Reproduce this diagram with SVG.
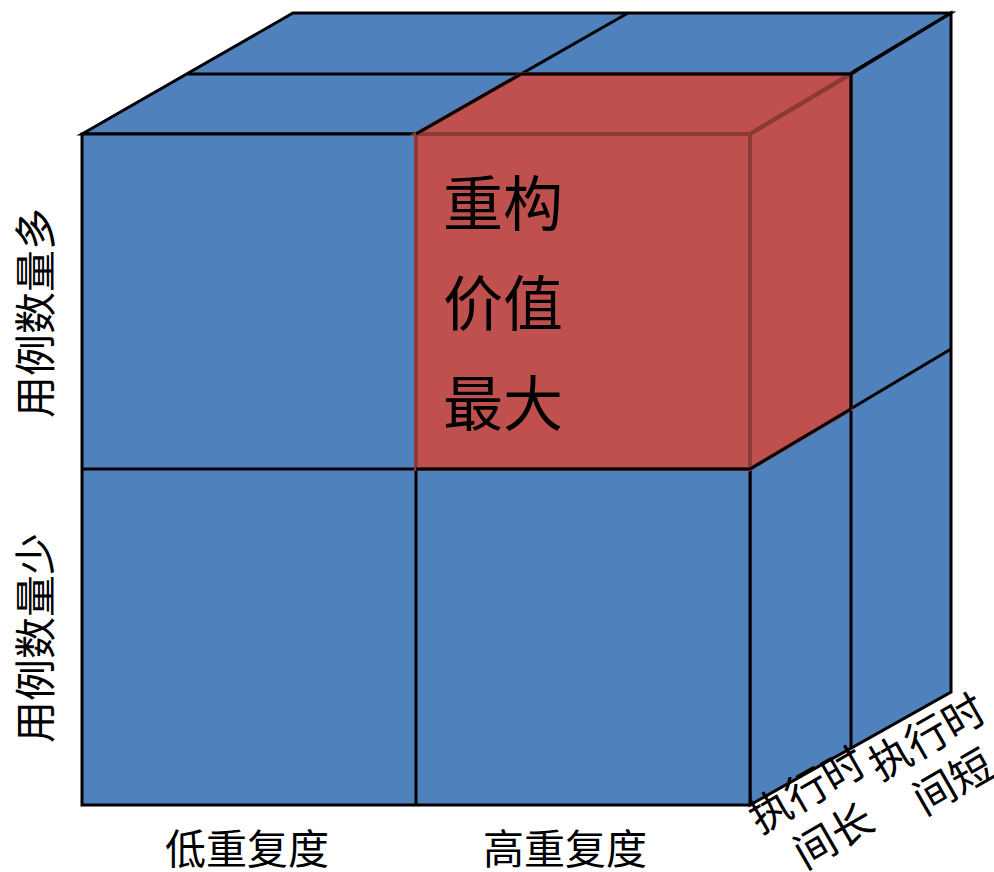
<svg xmlns="http://www.w3.org/2000/svg" width="994" height="872" viewBox="0 0 994 872">
<style>
.blue{fill:#4F81BD;stroke:#000;stroke-width:3;stroke-linejoin:miter}
.red{fill:#C0504D;stroke:#8C3A38;stroke-width:4;stroke-linejoin:miter}
.ln{stroke:#000;stroke-width:3;fill:none}
.dr{stroke:#8C3A38;stroke-width:4;fill:none}
.t{font-family:"Liberation Serif","Noto Sans CJK SC",serif;fill:#000}
</style>
<rect width="994" height="872" fill="#fff"/>
<g id="cube">
<polygon class="blue" points="82,134 293,13 951,13 750,134"/>
<polygon class="blue" points="750,134 951,13 951,692 750,805"/>
<rect class="blue" x="82" y="134" width="668" height="671"/>
</g>
<g id="grid">
<line class="ln" x1="188" y1="74" x2="851" y2="74"/>
<line class="ln" x1="416" y1="134" x2="628" y2="13"/>
<line class="ln" x1="851" y1="74" x2="851" y2="749"/>
<line class="ln" x1="750" y1="469" x2="951" y2="349"/>
<line class="ln" x1="82" y1="469" x2="750" y2="469"/>
<line class="ln" x1="416" y1="469" x2="416" y2="805"/>
</g>
<g id="red-cube">
<polygon class="red" points="416,134 521,74 851,74 750,134" stroke="none"/>
<polygon class="red" points="750,134 851,74 851,409 750,469" stroke="none"/>
<rect class="red" x="416" y="134" width="334" height="335"/>
<line class="dr" x1="750" y1="134" x2="851" y2="74"/>
<line class="ln" x1="416" y1="134" x2="521" y2="74"/>
<line class="ln" x1="521" y1="74" x2="851" y2="74"/>
<line class="ln" x1="851" y1="74" x2="851" y2="409"/>
<line class="ln" x1="750" y1="469" x2="851" y2="409"/>
<line class="ln" x1="416" y1="469" x2="750" y2="469"/>
<line class="ln" x1="851" y1="74" x2="951" y2="13"/>
<text class="t" x="443" y="226" font-size="60">重构</text>
<text class="t" x="443" y="326" font-size="60">价值</text>
<text class="t" x="443" y="426" font-size="60">最大</text>
</g>
<g id="labels">
<text class="t" font-size="42" text-anchor="middle" transform="translate(51,313) rotate(-90)">用例数量多</text>
<text class="t" font-size="42" text-anchor="middle" transform="translate(51,638) rotate(-90)">用例数量少</text>
<text class="t" font-size="41" text-anchor="middle" x="247" y="864">低重复度</text>
<text class="t" font-size="41" text-anchor="middle" x="565" y="864">高重复度</text>
<g transform="translate(807,790) rotate(-30)">
<text class="t" font-size="42" text-anchor="middle" x="0" y="15">执行时</text>
<text class="t" font-size="42" text-anchor="middle" x="0" y="68">间长</text>
</g>
<g transform="translate(927,737) rotate(-30)">
<text class="t" font-size="42" text-anchor="middle" x="0" y="15">执行时</text>
<text class="t" font-size="42" text-anchor="middle" x="0" y="67">间短</text>
</g>
</g>
</svg>
